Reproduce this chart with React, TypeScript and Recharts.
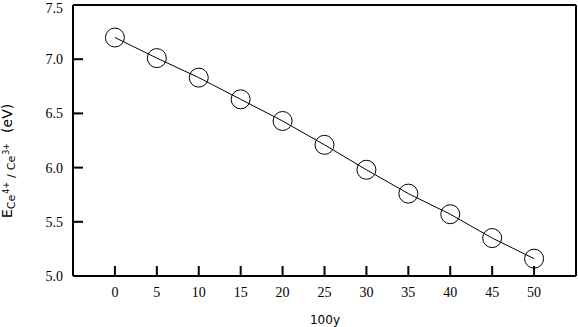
import { LineChart, Line, XAxis, YAxis, Label } from "recharts";

const fractions = [0, 5, 10, 15, 20, 25, 30, 35, 40, 45, 50];
const energies = [7.2, 7.01, 6.83, 6.63, 6.43, 6.21, 5.98, 5.76, 5.57, 5.35, 5.16];
const xTicks = [0, 5, 10, 15, 20, 25, 30, 35, 40, 45, 50];
const yTicks = [5.0, 5.5, 6.0, 6.5, 7.0, 7.5];

const data = fractions.map((x, i) => ({ x, e: energies[i] }));

const axisStroke = { stroke: "#000", strokeWidth: 2 };
const tickFont = { fill: "#000", fontSize: 14, fontFamily: "'Liberation Serif', serif" };
const sans = "DejaVu Sans, sans-serif";

const App = () => {
  return (
    <div style={{ position: "absolute", left: 0, top: 0 }}>
      <LineChart
        width={578}
        height={327}
        data={data}
        margin={{ top: 4, right: 1, bottom: 0, left: 0 }}
      >
        <XAxis
          xAxisId="b"
          dataKey="x"
          type="number"
          domain={[-5, 55]}
          ticks={xTicks}
          height={51}
          axisLine={axisStroke}
          tickLine={axisStroke}
          tickSize={-10}
          tickMargin={21}
          tick={tickFont}
        >
          <Label
            content={() => (
              <text x={325} y={324} textAnchor="middle" fontFamily={sans} fontSize={12} fill="#000">
                100y
              </text>
            )}
          />
        </XAxis>
        <XAxis
          xAxisId="t"
          orientation="top"
          type="number"
          domain={[-5, 55]}
          ticks={xTicks}
          height={1}
          axisLine={axisStroke}
          tickLine={axisStroke}
          tickSize={-10}
          tick={false}
          allowDataOverflow
        />
        <YAxis
          yAxisId="l"
          type="number"
          domain={[5, 7.5]}
          ticks={yTicks}
          width={73}
          axisLine={axisStroke}
          tickLine={axisStroke}
          tickSize={-10}
          tickMargin={20}
          tick={tickFont}
          tickFormatter={(v: number) => v.toFixed(1)}
        >
          <Label
            content={() => (
              <text
                transform="translate(12,218) rotate(-90)"
                textAnchor="start"
                fontFamily={sans}
                fontSize={14}
                fill="#000"
              >
                E
                <tspan dy={3} fontSize={11}>Ce</tspan>
                <tspan dy={-6} dx={1} fontSize={8}>4+</tspan>
                <tspan dy={6} dx={4} fontSize={11}>/</tspan>
                <tspan dx={4} fontSize={11}>Ce</tspan>
                <tspan dy={-6} dx={1} fontSize={8}>3+</tspan>
                <tspan dy={3} dx={10} fontSize={14}>(eV)</tspan>
              </text>
            )}
          />
        </YAxis>
        <YAxis
          yAxisId="r"
          orientation="right"
          type="number"
          domain={[5, 7.5]}
          ticks={yTicks}
          width={1}
          axisLine={axisStroke}
          tickLine={axisStroke}
          tickSize={-10}
          tick={false}
          allowDataOverflow
        />
        <Line
          xAxisId="b"
          yAxisId="l"
          type="linear"
          dataKey="e"
          stroke="#000"
          strokeWidth={1}
          dot={{ r: 9.5, fill: "none", stroke: "#000", strokeWidth: 1 }}
          isAnimationActive={false}
        />
      </LineChart>
    </div>
  );
};

export default App;
